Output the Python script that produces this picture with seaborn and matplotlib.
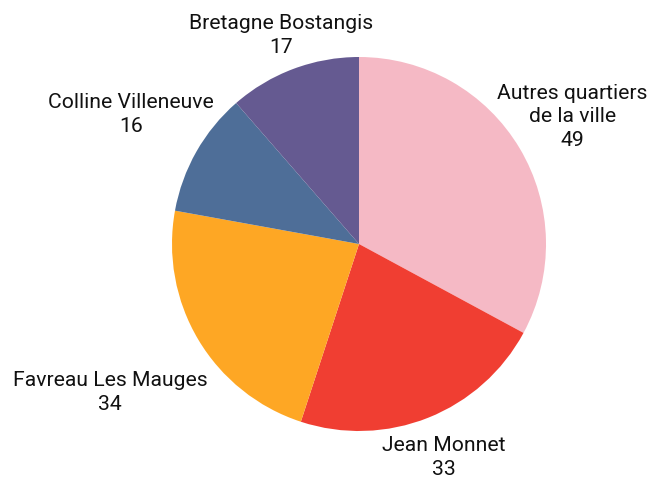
import matplotlib.pyplot as plt
import numpy as np
import seaborn as sns

# ---- data ----
quartiers = ["Autres quartiers\nde la ville", "Jean Monnet", "Favreau Les Mauges",
             "Colline Villeneuve", "Bretagne Bostangis"]
effectifs = [49, 33, 34, 16, 17]
couleurs = ["#F5B9C5", "#F03E32", "#FEA724", "#4E6E98", "#655A91"]

# distance of each label centre from the pie centre (in radii)
label_r = [1.33, 1.23, 1.55, 1.40, 1.19]

sns.set_theme(style="white")
plt.rcParams["font.family"] = ["Roboto", "DejaVu Sans"]

fig = plt.figure(figsize=(6.5, 4.78), dpi=100)
ax = fig.add_axes([(359 - 187) / 650, (478 - 244 - 187) / 478, 374 / 650, 374 / 478])

palette = sns.color_palette(couleurs)
wedges, _ = ax.pie(effectifs, colors=palette, startangle=90, counterclock=False,
                   radius=1, wedgeprops={"linewidth": 0})

for w, name, val, r in zip(wedges, quartiers, effectifs, label_r):
    mid = np.deg2rad((w.theta1 + w.theta2) / 2)
    ax.text(r * np.cos(mid), r * np.sin(mid), f"{name}\n{val}",
            ha="center", va="center", fontsize=15.2, linespacing=1.3,
            color="#111111")

ax.set_xlim(-1, 1)
ax.set_ylim(-1, 1)
ax.set_aspect("equal")
ax.axis("off")

fig.savefig("out.png", dpi=100)
